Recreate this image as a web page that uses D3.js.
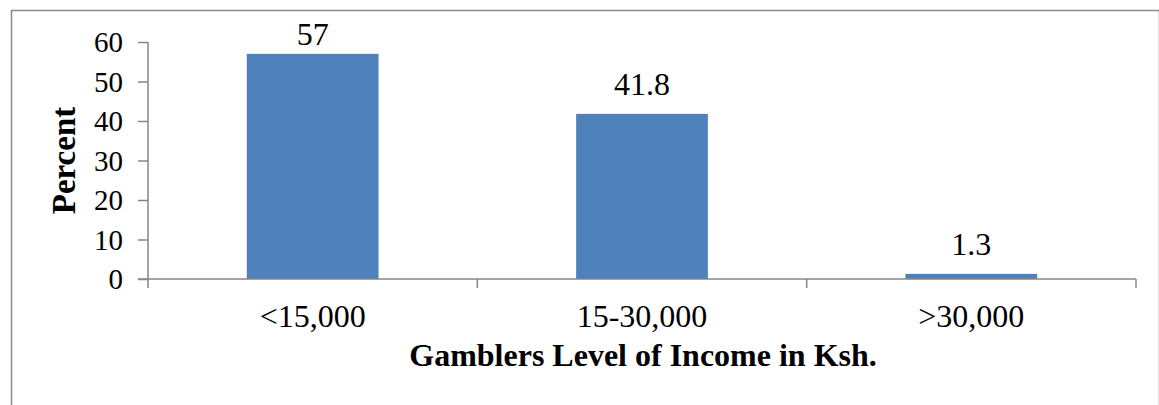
<!DOCTYPE html>
<html><head><meta charset="utf-8">
<script src="https://cdn.jsdelivr.net/npm/d3@7"></script>
<style>body{margin:0;background:#fff}svg{display:block}</style>
</head><body>
<script>
const categories = ["<15,000", "15-30,000", ">30,000"];
const values = [57, 41.8, 1.3];
const valueLabels = ["57", "41.8", "1.3"];
const yTicks = [0, 10, 20, 30, 40, 50, 60];

const W = 1159, H = 405;
const svg = d3.select("body").append("svg").attr("width", W).attr("height", H);
svg.append("rect").attr("x", 11.5).attr("y", 10.5).attr("width", W - 11).attr("height", H)
  .attr("fill", "none").attr("stroke", "#898989").attr("stroke-width", 1.5);

const x0 = 148, x1 = 1136, yTop = 42, yBot = 279;
const x = d3.scaleBand().domain(categories).range([x0, x1]).paddingInner(0.6).paddingOuter(0.3);
const y = d3.scaleLinear().domain([0, 60]).range([yBot, yTop]);
const font = "'Liberation Serif', 'Times New Roman', serif";
const axisColor = "#868686";

// y axis
const ya = svg.append("g").attr("transform", `translate(${x0},0)`)
  .call(d3.axisLeft(y).tickValues(yTicks).tickSize(10).tickPadding(15));
ya.select(".domain").attr("stroke", axisColor).attr("stroke-width", 1.5).attr("d", `M0,${yTop}V${yBot}`);
ya.selectAll(".tick line").attr("stroke", axisColor).attr("stroke-width", 1.5);
ya.selectAll(".tick text").attr("font-family", font).attr("font-size", 29).attr("fill", "#000").attr("dy", "0.34em");

// bars
svg.selectAll("rect.bar").data(values).join("rect").attr("class", "bar")
  .attr("x", (d, i) => x(categories[i])).attr("width", x.bandwidth())
  .attr("y", d => y(d)).attr("height", d => y(0) - y(d)).attr("fill", "#4F81BD");

// x axis
const xb = d3.scaleLinear().domain([0, 3]).range([x0, x1]);
const xa = svg.append("g").attr("transform", `translate(0,${yBot})`);
xa.append("path").attr("d", `M${x0 - 10},0H${x1}`).attr("stroke", axisColor).attr("stroke-width", 1.5).attr("fill", "none");
xa.selectAll("line").data([0, 1, 2, 3]).join("line")
  .attr("x1", d => xb(d)).attr("x2", d => xb(d)).attr("y1", 0).attr("y2", 9)
  .attr("stroke", axisColor).attr("stroke-width", 1.5);
xa.selectAll("text").data(categories).join("text")
  .attr("x", d => x(d) + x.bandwidth() / 2).attr("y", 48)
  .attr("text-anchor", "middle").attr("font-family", font).attr("font-size", 32).text(d => d);

// value labels
svg.selectAll("text.val").data(values).join("text").attr("class", "val")
  .attr("x", (d, i) => x(categories[i]) + x.bandwidth() / 2).attr("y", d => Math.max(45, y(d) - 19))
  .attr("text-anchor", "middle").attr("font-family", font).attr("font-size", 32)
  .text((d, i) => valueLabels[i]);

// axis titles
svg.append("text").attr("transform", `translate(75,${(yTop + yBot) / 2}) rotate(-90)`)
  .attr("text-anchor", "middle").attr("font-family", font).attr("font-weight", "bold")
  .attr("font-size", 33).text("Percent");
svg.append("text").attr("x", 643).attr("y", 366).attr("text-anchor", "middle")
  .attr("font-family", font).attr("font-weight", "bold").attr("font-size", 32)
  .text("Gamblers Level of Income in Ksh.");
</script>
</body></html>
